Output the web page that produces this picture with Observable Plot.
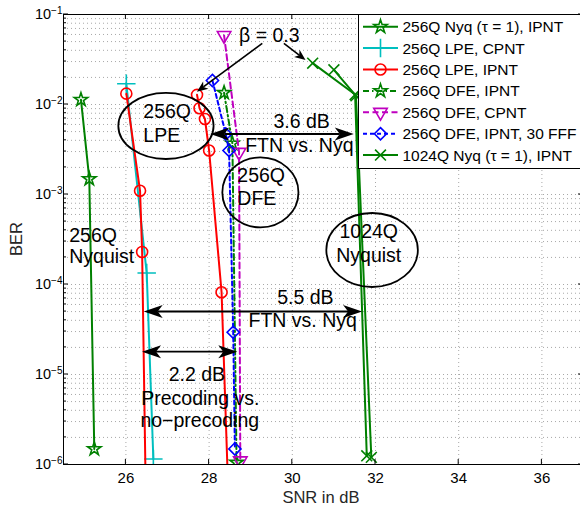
<!DOCTYPE html>
<html><head><meta charset="utf-8">
<script src="https://cdn.jsdelivr.net/npm/d3@7"></script>
<script src="https://cdn.jsdelivr.net/npm/@observablehq/plot@0.6"></script>
<style>
html,body{margin:0;padding:0;background:#fff;}
#chart{width:580px;height:509px;overflow:hidden;position:relative;}
svg{font-family:"Liberation Sans",Arial,Helvetica,sans-serif;}
</style></head><body><div id="chart"></div>
<script>
// ---- data (SNR in dB, BER) ----
const seriesNames = ["256Q Nyq (τ = 1), IPNT","256Q LPE, CPNT","256Q LPE, IPNT","256Q DFE, IPNT","256Q DFE, CPNT","256Q DFE, IPNT, 30 FFF","1024Q Nyq (τ = 1), IPNT"];
const nyq256Snr = [24.92, 25.12, 25.24];
const nyq256Ber = [1.13e-2, 1.49e-3, 1.49e-6];
const lpeCpntSnr = [26.01, 26.50, 26.66];
const lpeCpntBer = [1.7e-2, 1.34e-4, 1.15e-6];
const lpeIpntSnr = [26.01, 26.34, 26.39, 26.50, 27.71, 27.77, 27.90, 28.00, 28.30, 28.51];
const lpeIpntBer = [1.32e-2, 1.1e-3, 2.3e-4, 1e-7, 1.28e-2, 9.1e-3, 6.9e-3, 3.08e-3, 8.2e-5, 1e-7];
const lpeIpntCurve = [0,0,0,0,1,1,1,1,1,1];
const dfeIpntSnr = [28.36, 28.56, 28.66];
const dfeIpntBer = [1.35e-2, 3.7e-3, 1.05e-6];
const dfeCpntSnr = [28.36, 28.72, 28.75];
const dfeCpntBer = [5.85e-2, 2.95e-3, 1.1e-6];
const dfeFffSnr = [28.08, 28.40, 28.48, 28.58, 28.62];
const dfeFffBer = [1.85e-2, 4.7e-3, 3.08e-3, 2.95e-5, 1.49e-6];
const nyq1024Snr = [30.49, 31.51, 31.79, 31.00, 31.53, 31.90];
const nyq1024Ber = [2.88e-2, 1.29e-2, 1.25e-6, 2.43e-2, 1.25e-2, 1.2e-6];
const nyq1024Curve = [0,0,0,1,1,1];
const xTicks = [26, 28, 30, 32, 34, 36];
const yTicks = [1e-6, 1e-5, 1e-4, 1e-3, 1e-2, 1e-1];

// annotations (data coordinates)
const annotTexts = [
 {t:"β = 0.3", x:29.46, y:4.92e-2, a:"middle"},
 {t:"256Q", x:26.43, y:6.93e-3, a:"start"},
 {t:"LPE", x:26.43, y:3.81e-3, a:"start"},
 {t:"256Q", x:28.69, y:1.37e-3, a:"start"},
 {t:"DFE", x:28.69, y:7.55e-4, a:"start"},
 {t:"1024Q", x:31.85, y:3.22e-4, a:"middle"},
 {t:"Nyquist", x:31.85, y:1.77e-4, a:"middle"},
 {t:"256Q", x:24.65, y:2.95e-4, a:"start"},
 {t:"Nyquist", x:24.65, y:1.7e-4, a:"start"},
 {t:"3.6 dB", x:29.56, y:5.41e-3, a:"start"},
 {t:"FTN vs. Nyq", x:28.88, y:2.95e-3, a:"start"},
 {t:"5.5 dB", x:29.65, y:6e-5, a:"start"},
 {t:"FTN vs. Nyq", x:28.96, y:3.36e-5, a:"start"},
 {t:"2.2 dB", x:27.04, y:8.36e-6, a:"start"},
 {t:"Precoding vs.", x:26.38, y:4.53e-6, a:"start"},
 {t:"no−precoding", x:26.36, y:2.6e-6, a:"start"}
];
const doubleArrows = [
 {x1:28.04, x2:31.49, y:4.64e-3},
 {x1:26.44, x2:31.69, y:4.95e-5},
 {x1:26.40, x2:28.69, y:1.77e-5}
];
const singleArrows = [
 {x1:29.29, y1:4.72e-2, x2:27.72, y2:1.37e-2},
 {x1:29.81, y1:4.72e-2, x2:30.33, y2:3.08e-2}
];
const ellipses = [
 {x1:25.83, x2:28.12, y1:1.33e-2, y2:2.45e-3},
 {x1:28.33, x2:30.16, y1:2.55e-3, y2:4.25e-4},
 {x1:30.83, x2:33.03, y1:6.15e-4, y2:9.26e-5}
];

// ---- styles ----
const styles = [
 {color:"#008000", symbol:"star", r:4.2, dash:null},
 {color:"#00BFBF", symbol:"plus", r:6, dash:null},
 {color:"#FF0000", symbol:"circle", r:5.5, dash:null},
 {color:"#008000", symbol:"star", r:4.2, dash:"6,3,1.5,3"},
 {color:"#BF00BF", symbol:"triangle", r:5, dash:"6,3.5", rotate:180},
 {color:"#0000FF", symbol:"diamond2", r:5.5, dash:"4,3"},
 {color:"#008000", symbol:"times", r:5, dash:null}
];

function mk(snr, ber, curve) {
  return snr.map((s, i) => ({snr: s, ber: ber[i], curve: curve ? curve[i] : 0}));
}
const seriesData = [
  mk(nyq256Snr, nyq256Ber),
  mk(lpeCpntSnr, lpeCpntBer),
  mk(lpeIpntSnr, lpeIpntBer, lpeIpntCurve),
  mk(dfeIpntSnr, dfeIpntBer),
  mk(dfeCpntSnr, dfeCpntBer),
  mk(dfeFffSnr, dfeFffBer),
  mk(nyq1024Snr, nyq1024Ber, nyq1024Curve)
];

const xGrid = xTicks;
const yGrid = [];
for (let e = -6; e <= -2; e++) for (let m = 1; m <= 9; m++) yGrid.push(m * Math.pow(10, e));
yGrid.push(1e-1);

const marks = [
  Plot.ruleX(xGrid, {stroke:"#a8a8a8", strokeDasharray:"1,3", strokeWidth:1}),
  Plot.ruleY(yGrid, {stroke:"#a8a8a8", strokeDasharray:"1,3", strokeWidth:1})
];
seriesData.forEach((d, i) => {
  const st = styles[i];
  marks.push(Plot.line(d, {x:"snr", y:"ber", z:"curve", stroke:st.color, strokeWidth:2, strokeDasharray:st.dash || undefined, clip:true}));
  marks.push(Plot.dot(d, {x:"snr", y:"ber", symbol:st.symbol, r:st.r, stroke:st.color, fill:"none", strokeWidth:1.6, rotate:st.rotate || 0, clip:true}));
});
marks.push(Plot.frame({stroke:"black", strokeWidth:1}));
marks.push(Plot.axisX({ticks:xTicks, tickSize:0, tickPadding:7.5, fontSize:15, label:null, tickFormat:d=>String(d)}));
marks.push(Plot.axisY({ticks:yTicks, tickSize:0, tickPadding:1, fontSize:14.5, label:null, tickFormat:d=>"10|" + Math.round(Math.log10(d))}));

const chart = Plot.plot({
  width:580, height:509,
  marginLeft:63, marginRight:-3, marginTop:14, marginBottom:45,
  x:{domain:[24.5, 37]},
  y:{type:"log", domain:[1e-6, 1e-1]},
  style:{fontFamily:"'Liberation Sans', Arial, Helvetica, sans-serif", color:"black", background:"white"},
  marks
});
document.getElementById("chart").appendChild(chart);

const sx = chart.scale("x"), sy = chart.scale("y");
const X = v => sx.apply(v), Y = v => sy.apply(v);
const svg = d3.select(chart);

// superscript tick labels
svg.selectAll('g[aria-label="y-axis tick label"] text').each(function() {
  const s = this.textContent;
  if (s.indexOf("|") < 0) return;
  const exp = s.split("|")[1].replace("-", "−");
  const t = d3.select(this);
  t.text("10");
  t.append("tspan").attr("dy", "-0.55em").attr("font-size", "10px").text(exp);
});

// inward ticks
const tg = svg.append("g").attr("stroke", "black").attr("stroke-width", 1);
const x0 = X(24.5), x1 = X(37), y0 = Y(1e-6), y1 = Y(1e-1);
xTicks.forEach(v => {
  tg.append("line").attr("x1", X(v)).attr("x2", X(v)).attr("y1", y0).attr("y2", y0 - 5);
  tg.append("line").attr("x1", X(v)).attr("x2", X(v)).attr("y1", y1).attr("y2", y1 + 5);
});
yGrid.forEach(v => {
  const major = Math.abs(Math.log10(v) - Math.round(Math.log10(v))) < 1e-9;
  const L = major ? 5 : 3;
  tg.append("line").attr("x1", x0).attr("x2", x0 + L).attr("y1", Y(v)).attr("y2", Y(v));
  tg.append("line").attr("x1", x1).attr("x2", x1 - L).attr("y1", Y(v)).attr("y2", Y(v));
});

// axis titles
svg.append("text").attr("x", X(30.7)).attr("y", 503).attr("text-anchor", "middle")
  .attr("font-size", "16.5px").attr("fill", "#262626").text("SNR in dB");
svg.append("text").attr("transform", `translate(22,${(y0 + y1) / 2}) rotate(-90)`).attr("text-anchor", "middle")
  .attr("font-size", "16.5px").attr("fill", "#262626").text("BER");

// annotations
const ag = svg.append("g");
ellipses.forEach(e => {
  const cx = (X(e.x1) + X(e.x2)) / 2, cy = (Y(e.y1) + Y(e.y2)) / 2;
  ag.append("ellipse").attr("cx", cx).attr("cy", cy)
    .attr("rx", Math.abs(X(e.x2) - X(e.x1)) / 2).attr("ry", Math.abs(Y(e.y2) - Y(e.y1)) / 2)
    .attr("fill", "none").attr("stroke", "black").attr("stroke-width", 1.8);
});
function head(px, py, qx, qy, L, W, N) {
  const dx = qx - px, dy = qy - py, len = Math.hypot(dx, dy);
  const ux = dx / len, uy = dy / len, nx = -uy, ny = ux;
  const bx = qx - L * ux, by = qy - L * uy;
  const pts = [[qx, qy], [bx + W * nx, by + W * ny], [qx - (L - N) * ux, qy - (L - N) * uy], [bx - W * nx, by - W * ny]];
  ag.append("path").attr("d", "M" + pts.map(p => p.join(",")).join("L") + "Z").attr("fill", "black");
  return [qx - (L - N) * ux, qy - (L - N) * uy];
}
doubleArrows.forEach(a => {
  const ax = X(a.x1), bx = X(a.x2), yy = Y(a.y);
  const e1 = head(bx, yy, ax, yy, 19, 6.5, 5);
  const e2 = head(ax, yy, bx, yy, 19, 6.5, 5);
  ag.append("line").attr("x1", e1[0]).attr("y1", yy).attr("x2", e2[0]).attr("y2", yy)
    .attr("stroke", "black").attr("stroke-width", 1.8);
});
singleArrows.forEach(a => {
  const px = X(a.x1), py = Y(a.y1), qx = X(a.x2), qy = Y(a.y2);
  const e = head(px, py, qx, qy, 11, 4.5, 3);
  ag.append("line").attr("x1", px).attr("y1", py).attr("x2", e[0]).attr("y2", e[1])
    .attr("stroke", "black").attr("stroke-width", 1.6);
});
annotTexts.forEach(t => {
  ag.append("text").attr("x", X(t.x)).attr("y", Y(t.y)).attr("text-anchor", t.a)
    .attr("font-size", "19.5px").attr("fill", "black").text(t.t);
});

// legend (inside plot, north-east)
const lg = svg.append("g").attr("text-anchor", "start");
lg.append("rect").attr("x", 358.5).attr("y", 14.5).attr("width", 240).attr("height", 154)
  .attr("fill", "white").attr("stroke", "black").attr("stroke-width", 1);
const symMap = {star:d3.symbolStar, plus:d3.symbolPlus, circle:d3.symbolCircle, triangle:d3.symbolTriangle, diamond2:d3.symbolDiamond2, times:d3.symbolTimes};
seriesNames.forEach((name, i) => {
  const st = styles[i], yy = 26.7 + i * 21.4;
  lg.append("line").attr("x1", 363).attr("x2", 398).attr("y1", yy).attr("y2", yy)
    .attr("stroke", st.color).attr("stroke-width", 2).attr("stroke-dasharray", st.dash || null);
  lg.append("path").attr("d", d3.symbol(symMap[st.symbol], Math.PI * st.r * st.r)())
    .attr("transform", `translate(380.5,${yy}) rotate(${st.rotate || 0})`)
    .attr("fill", "none").attr("stroke", st.color).attr("stroke-width", 1.6);
  lg.append("text").attr("x", 402.5).attr("y", yy + 5.5).attr("text-anchor", "start")
    .attr("font-size", "15.5px").attr("fill", "black").text(name);
});
</script>
</body></html>
